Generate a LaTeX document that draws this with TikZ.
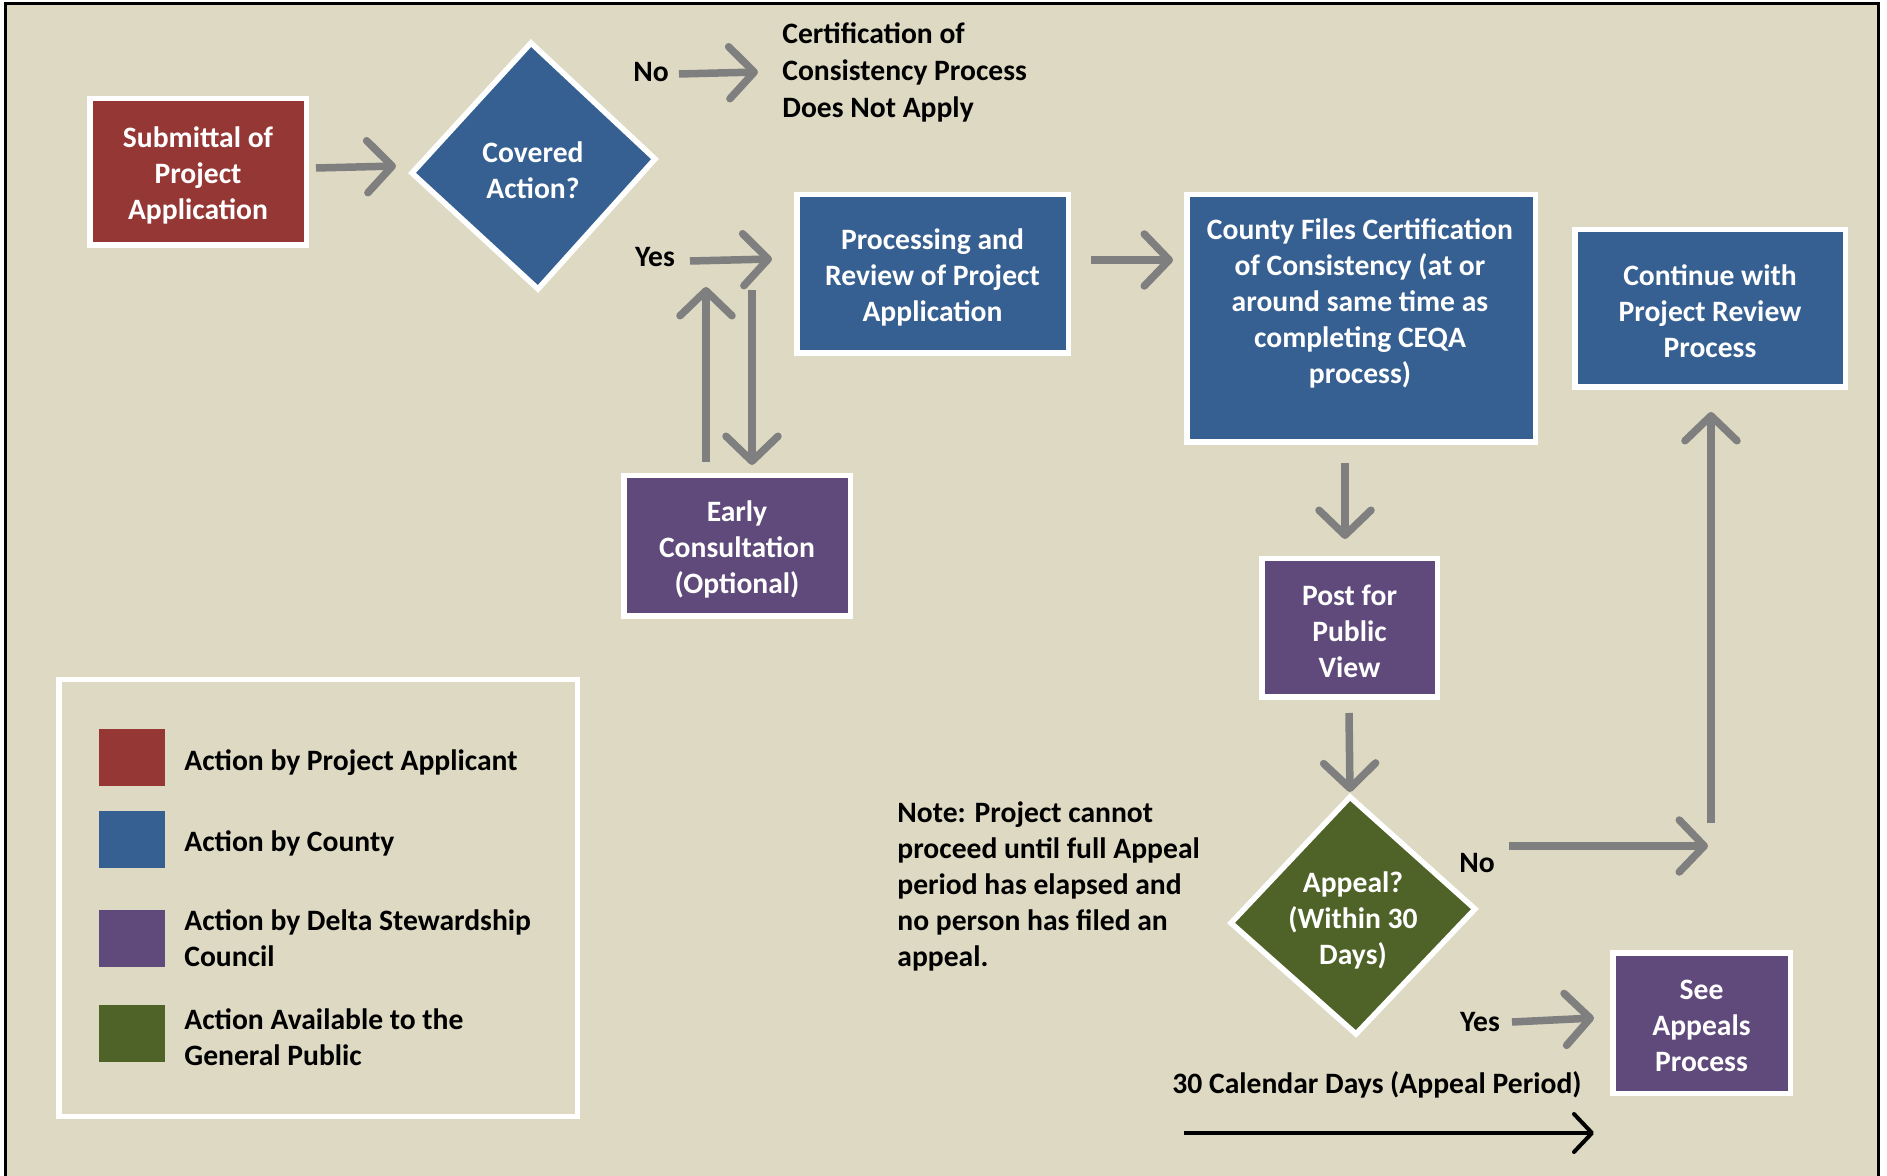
\documentclass[tikz,border=0pt]{standalone}
\usepackage{fontspec}
\setmainfont{Carlito}
\usetikzlibrary{arrows.meta}
\definecolor{bgbeige}{HTML}{DDD9C3}
\definecolor{appred}{HTML}{953735}
\definecolor{cntblue}{HTML}{376092}
\definecolor{dscpurple}{HTML}{604A7B}
\definecolor{pubgreen}{HTML}{4F6228}
\definecolor{arrowgray}{HTML}{7F7F7F}
\newcommand\txtfont{\bfseries\fontsize{14.8pt}{18pt}\selectfont}
\begin{document}
\begin{tikzpicture}[x=0.5pt,y=-0.5pt,
  box/.style={rectangle, draw=white, line width=2.75pt, text=white, font=\txtfont, align=center, inner sep=0pt},
  dia/.style={draw=white, line width=2.75pt, line join=miter},
  wtxt/.style={text=white, font=\txtfont, align=center, inner sep=0pt, yshift=-1.5pt},
  lbl/.style={text=black, font=\txtfont, inner sep=0pt, yshift=-1.5pt},
  flbl/.style={text=black, font=\txtfont, inner sep=0pt},
  garrow/.style={draw=arrowgray, line width=3.75pt, -{Straight Barb[length=12.5pt,width=26pt,round]}},
  karrow/.style={draw=black, line width=2pt, -{Straight Barb[length=9pt,width=19pt,round]}},
  swatch/.style={rectangle, inner sep=0pt, minimum width=33pt, minimum height=28.5pt}]
\useasboundingbox (0,0) rectangle (1887,1176);
\fill[white] (0,0) rectangle (1887,1176);
\fill[bgbeige] (5,4) rectangle (1878,1180);
\draw[black, line width=1.5pt] (5,1185) -- (5,4) -- (1878,4) -- (1878,1185);

% boxes
\node[box, fill=appred, minimum width=108.25pt, minimum height=73.25pt] (sub) at (198,172) {};
\node[wtxt] (subtxt) at (sub) {Submittal of\\Project\\Application};
\node[box, fill=cntblue, minimum width=135.75pt, minimum height=79.25pt] (proc) at (932.5,274) {};
\node[wtxt] (proctxt) at (proc) {Processing and\\Review of Project\\Application};
\node[box, fill=cntblue, minimum width=174.25pt, minimum height=123.75pt] (county) at (1361,318.5) {};
\node[wtxt] (countytxt) at (1360,300) {County Files Certification\\of Consistency (at or\\around same time as\\completing CEQA\\process)};
\node[box, fill=cntblue, minimum width=135.25pt, minimum height=78.75pt] (cont) at (1710,308.5) {};
\node[wtxt] (conttxt) at (cont) {Continue with\\Project Review\\Process};
\node[box, fill=dscpurple, minimum width=113.25pt, minimum height=70.25pt] (early) at (737,546) {};
\node[wtxt] (earlytxt) at (early) {Early\\Consultation\\(Optional)};
\node[box, fill=dscpurple, minimum width=87.75pt, minimum height=69.25pt] (post) at (1349.5,628) {};
\node[wtxt] (posttxt) at (post) {Post for\\Public\\View};
\node[box, fill=dscpurple, minimum width=88.75pt, minimum height=70.25pt] (appeals) at (1701.5,1023) {};
\node[wtxt] (appealstxt) at (appeals) {See\\Appeals\\Process};

% diamonds
\coordinate (covT) at (531,43);
\coordinate (covR) at (655,159);
\coordinate (covB) at (538,289);
\coordinate (covL) at (412,173);
\filldraw[dia, fill=cntblue] (covT) -- (covR) -- (covB) -- (covL) -- cycle;
\node[wtxt] (cov) at (533,167) {Covered\\Action?};
\coordinate (appT) at (1350,797);
\coordinate (appR) at (1475,909);
\coordinate (appB) at (1356,1034);
\coordinate (appL) at (1231,923);
\filldraw[dia, fill=pubgreen] (appT) -- (appR) -- (appB) -- (appL) -- cycle;
\node[wtxt] (app) at (1353,917) {Appeal?\\(Within 30\\Days)};

% labels
\node[flbl] (noA) at (651,72) {No};
\node[flbl] (yesA) at (655,257) {Yes};
\node[flbl] (noB) at (1477,863) {No};
\node[flbl] (yesB) at (1480,1022) {Yes};
\node[flbl, anchor=west, align=left, font=\bfseries\fontsize{14.8pt}{18.5pt}\selectfont, yshift=-0.5pt] (notapply) at (782,71) {Certification of\\Consistency Process\\Does Not Apply};
\node[lbl, anchor=west, align=left] (note) at (897,883.5) {Note: Project cannot\\proceed until full Appeal\\period has elapsed and\\no person has filed an\\appeal.};
\node[flbl, yshift=-0.5pt] (period) at (1377,1084) {30 Calendar Days (Appeal Period)};

% arrow end points
\coordinate (a1s) at (316,168);  \coordinate (a1e) at (396,166);
\coordinate (nos) at (679,74);   \coordinate (noe) at (758,72);
\coordinate (yss) at (690,261);  \coordinate (yse) at (772,259);
\coordinate (ups) at (706,462);  \coordinate (upe) at (706,287);
\coordinate (dns) at (752,290);  \coordinate (dne) at (752,465);
\coordinate (pcs) at (1091,260); \coordinate (pce) at (1173,260);
\coordinate (cps) at (1345,463); \coordinate (cpe) at (1345,539);
\coordinate (pas) at (1349,713); \coordinate (pae) at (1350,792);
\coordinate (n2s) at (1509,846); \coordinate (n2e) at (1708,846);
\coordinate (u2s) at (1711,823); \coordinate (u2e) at (1711,412);
\coordinate (y2s) at (1512,1022);\coordinate (y2e) at (1594,1018);
\coordinate (pds) at (1184,1133);\coordinate (pde) at (1594,1133);

\draw[garrow] (a1s) -- (a1e);
\draw[garrow] (nos) -- (noe);
\draw[garrow] (yss) -- (yse);
\draw[garrow] (ups) -- (upe);
\draw[garrow] (dns) -- (dne);
\draw[garrow] (pcs) -- (pce);
\draw[garrow] (cps) -- (cpe);
\draw[garrow] (pas) -- (pae);
\draw[garrow] (n2s) -- (n2e);
\draw[garrow] (u2s) -- (u2e);
\draw[garrow] (y2s) -- (y2e);
\draw[karrow] (pds) -- (pde);

% legend
\node[rectangle, draw=white, line width=2.75pt, minimum width=259.25pt, minimum height=218.25pt, inner sep=0pt] (legend) at (318,898) {};
\node[swatch, fill=appred] (swred) at (132,757.5) {};
\node[swatch, fill=cntblue] (swblue) at (132,839.5) {};
\node[swatch, fill=dscpurple] (swpurple) at (132,938) {};
\node[swatch, fill=pubgreen] (swgreen) at (132,1033) {};
\node[lbl, anchor=west] (lgred) at (184,760) {Action by Project Applicant};
\node[lbl, anchor=west] (lgblue) at (184,840) {Action by County};
\node[lbl, anchor=west, align=left] (lgpurple) at (184,935.5) {Action by Delta Stewardship\\Council};
\node[lbl, anchor=west, align=left] (lggreen) at (184,1034.5) {Action Available to the\\General Public};
\end{tikzpicture}
\end{document}
